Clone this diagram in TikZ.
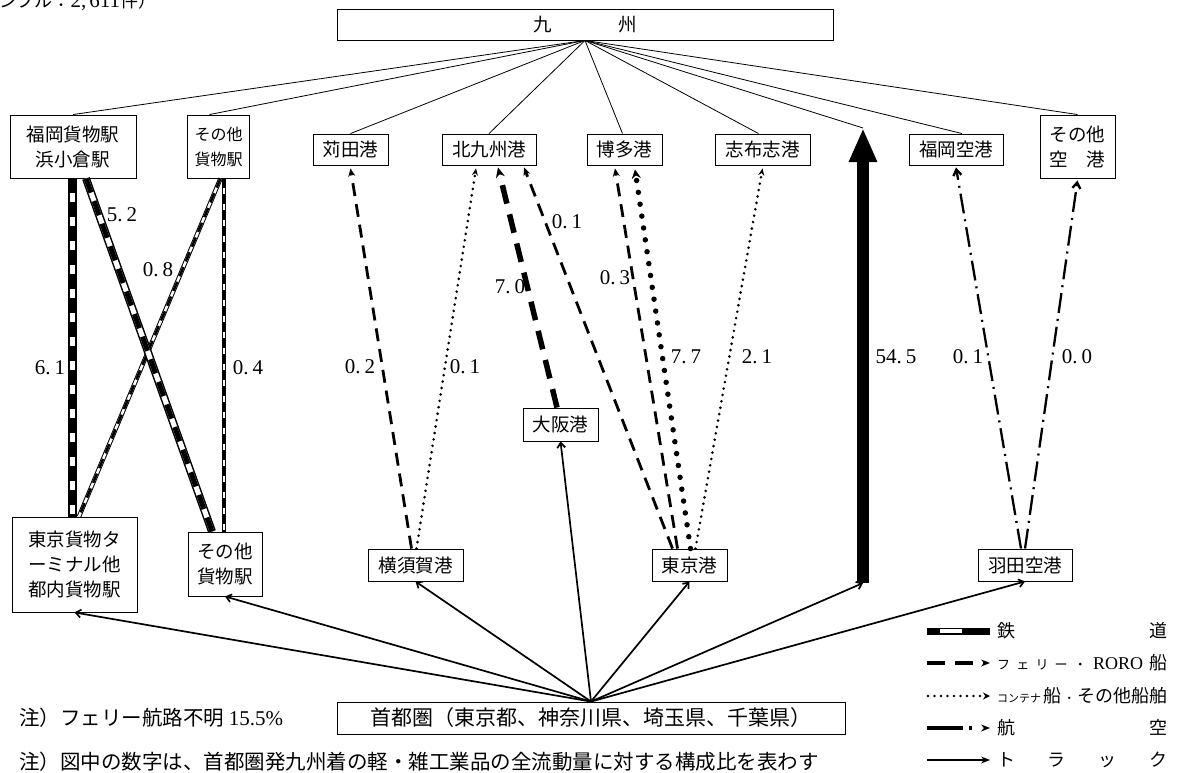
\documentclass[tikz,border=0pt]{standalone}
\usepackage{fontspec}
\newfontfamily\cjk{Noto Sans CJK JP}
\newfontfamily\numf{Liberation Serif}
\usetikzlibrary{arrows.meta}
\newcommand\myrail[5]{%
  \draw[line width=#1] #4 -- #5;
  \draw[white,line width=#2] #4 -- #5;
  \draw[line width=#2,dash pattern=#3] #4 -- #5;}
\newcommand\smk[1]{{\fontsize{13}{15}\selectfont #1}}
\newcommand\nm[2]{#1.\hspace{4pt}#2}
\begin{document}
\begin{tikzpicture}[x=1pt,y=-1pt,
  box/.style={draw,line width=0.9pt,inner sep=0pt,align=center,font=\cjk\fontsize{18.5}{25}\selectfont},
  fan/.style={line width=0.8pt},
  truck/.style={line width=1.7pt,-{Straight Barb[length=5pt,width=8pt]}},
  ferry/.style={line width=2.8pt,dash pattern=on 13pt off 8pt,-{Stealth[length=8pt,width=7pt]}},
  bigferry/.style={line width=5.5pt,dash pattern=on 19pt off 11pt,-{Stealth[length=10pt,width=9pt]}},
  cont/.style={line width=2.9pt,line cap=round,dash pattern=on 0pt off 6.5pt,-{Stealth[length=7pt,width=6pt]}},
  bigcont/.style={line width=5.5pt,line cap=round,dash pattern=on 0pt off 12pt,-{Stealth[length=9pt,width=9pt]}},
  air/.style={line width=2.3pt,dash pattern=on 20pt off 6pt on 2pt off 6pt,-{Straight Barb[length=6pt,width=8pt]}},
  lbl/.style={inner sep=0pt,font=\numf\fontsize{21}{23}\selectfont},
  leg/.style={inner sep=0pt,anchor=west,font=\cjk\fontsize{18}{20}\selectfont},
  note/.style={inner sep=0pt,anchor=west,font=\cjk\fontsize{20.5}{24}\selectfont}]
\useasboundingbox (0,0) rectangle (1177,773);

% top partial caption
\node[anchor=base west,inner sep=0pt,font=\cjk\fontsize{18}{18}\selectfont] (sample) at (-37,8) {（サンプル：{\numf\fontsize{21}{21}\selectfont 2,\hspace{3pt}611}件）};

% boxes
\node[box,minimum width=496,minimum height=31] (kyushu) at (585,24.5) {九\hspace{67pt}州};
\node[box,minimum width=126,minimum height=63] (fukuoka) at (73,146.5) {福岡貨物駅\\浜小倉駅};
\node[box,minimum width=62,minimum height=63,font=\cjk\fontsize{16}{25}\selectfont] (sonotaA) at (218.5,146.5) {その他\\貨物駅};
\node[box,minimum width=75,minimum height=31] (kanda) at (350.5,149.5) {苅田港};
\node[box,minimum width=94,minimum height=31] (kita) at (489,149.5) {北九州港};
\node[box,minimum width=75,minimum height=31] (hakata) at (624.5,149.5) {博多港};
\node[box,minimum width=95,minimum height=31] (shibushi) at (762.5,149.5) {志布志港};
\node[box,minimum width=94,minimum height=31] (fair) at (956,149.5) {福岡空港};
\node[box,minimum width=75,minimum height=63] (oair) at (1077.5,146.5) {その他\\空\hspace{1em}港};
\node[box,minimum width=125,minimum height=95] (tkf) at (74.5,564.5) {東京貨物タ\\ーミナル他\\都内貨物駅};
\node[box,minimum width=74,minimum height=64] (sonotaB) at (225,564) {その他\\貨物駅};
\node[box,minimum width=95,minimum height=32] (yoko) at (415.5,565) {横須賀港};
\node[box,minimum width=75,minimum height=33] (osaka) at (560.5,424.5) {大阪港};
\node[box,minimum width=75,minimum height=32] (tport) at (689.5,565) {東京港};
\node[box,minimum width=94,minimum height=32] (haneda) at (1025,565) {羽田空港};
\node[box,minimum width=508,minimum height=32,font=\cjk\fontsize{21}{25}\selectfont] (shuto) at (591,718) {首都圏（東京都、神奈川県、埼玉県、千葉県）};

\coordinate (barTop) at (863,128);
\coordinate (barBot) at (863,583);

% fan from Kyushu
\draw[fan] (kyushu.south) -- (fukuoka.north);
\draw[fan] (kyushu.south) -- ([xshift=-9pt]sonotaA.north);
\draw[fan] (kyushu.south) -- (kanda.north);
\draw[fan] (kyushu.south) -- (kita.north);
\draw[fan] (kyushu.south) -- ([xshift=-2pt]hakata.north);
\draw[fan] (kyushu.south) -- ([xshift=-4pt]shibushi.north);
\draw[fan] (kyushu.south) -- (barTop);
\draw[fan] (kyushu.south) -- ([xshift=6pt]fair.north);
\draw[fan] (kyushu.south) -- (oair.north);

% rail
\myrail{9pt}{5.5pt}{on 15pt off 9pt}{([xshift=-0.5pt]fukuoka.south)}{([xshift=-0.5pt]fukuoka.south |- tkf.north)}
\myrail{4.5pt}{2.5pt}{on 10pt off 6pt}{([xshift=5.5pt]sonotaA.south)}{([xshift=5.5pt]sonotaA.south |- sonotaB.north)}
\myrail{4.5pt}{2.5pt}{on 10pt off 6pt}{([xshift=2pt]sonotaA.south)}{([xshift=4.5pt]tkf.north)}
\myrail{8pt}{5pt}{on 15pt off 9pt}{([xshift=13pt]fukuoka.south)}{([xshift=-13pt]sonotaB.north)}

% ships
\draw[ferry] ([xshift=-4pt]yoko.north) -- ([yshift=-3pt]kanda.south);
\draw[cont] ([xshift=1pt]yoko.north) -- ([xshift=-13pt,yshift=-3pt]kita.south);
\draw[bigferry] ([xshift=-3.5pt]osaka.north) -- ([xshift=9pt,yshift=-2pt]kita.south);
\draw[ferry] ([xshift=-17pt]tport.north) -- ([xshift=35pt,yshift=-2pt]kita.south);
\draw[ferry] ([xshift=-12pt]tport.north) -- ([xshift=-9.5pt,yshift=-3pt]hakata.south);
\draw[bigcont] ([xshift=1pt]tport.north) -- ([xshift=10.5pt,yshift=-4pt]hakata.south);
\draw[cont] ([xshift=6pt]tport.north) -- ([yshift=-3pt]shibushi.south);

% air
\draw[air] ([xshift=-4pt]haneda.north) -- ([yshift=-2pt]fair.south);
\draw[air] (haneda.north) -- ([yshift=-2pt]oair.south);

% big truck bar
\draw[line width=12pt,-{Triangle[length=34pt,width=26pt]}] (barBot) -- (barTop);

% trucks
\draw[truck] (shuto.north) -- (tkf.south);
\draw[truck] (shuto.north) -- (sonotaB.south);
\draw[truck] (shuto.north) -- (yoko.south);
\draw[truck] (shuto.north) -- (osaka.south);
\draw[truck] (shuto.north) -- (tport.south);
\draw[truck] (shuto.north) -- (barBot);
\draw[truck] (shuto.north) -- (haneda.south);

% labels
\node[lbl] (l61) at (50,368) {\nm{6}{1}};
\node[lbl] (l52) at (122,215) {\nm{5}{2}};
\node[lbl] (l08) at (158,270) {\nm{0}{8}};
\node[lbl] (l04) at (248,368) {\nm{0}{4}};
\node[lbl] (l02) at (360,367) {\nm{0}{2}};
\node[lbl] (l01a) at (465,367) {\nm{0}{1}};
\node[lbl] (l70) at (510,287) {\nm{7}{0}};
\node[lbl] (l01b) at (567,222) {\nm{0}{1}};
\node[lbl] (l03) at (615,278) {\nm{0}{3}};
\node[lbl] (l77) at (686,357) {\nm{7}{7}};
\node[lbl] (l21) at (757,357) {\nm{2}{1}};
\node[lbl] (l545) at (896,357) {54.\hspace{4pt}5};
\node[lbl] (l01c) at (968,357) {\nm{0}{1}};
\node[lbl] (l00) at (1077,357) {\nm{0}{0}};

% notes
\node[note] (note1) at (19,718) {注）フェリー航路不明 {\numf\fontsize{21}{24}\selectfont 15.5\%}};
\node[note] (note2) at (19,762) {注）図中の数字は、首都圏発九州着の軽・雑工業品の全流動量に対する構成比を表わす};

% legend
\draw[line width=7pt] (927,631) -- (990,631);
\draw[white,line width=4.5pt] (940,631) -- (962,631);
\draw[line width=3.5pt,dash pattern=on 18pt off 10pt,-{Stealth[length=9pt,width=7pt]}] (927,663) -- (990,663);
\draw[line width=2.6pt,line cap=round,dash pattern=on 0pt off 6.5pt,-{Stealth[length=7pt,width=7pt]}] (928,696) -- (990,696);
\draw[line width=3.5pt,dash pattern=on 36pt off 6pt on 3pt off 20pt,-{Stealth[length=9pt,width=7pt]}] (927,728) -- (990,728);
\draw[line width=1.8pt,-{Stealth[length=9pt,width=7pt]}] (927,760) -- (990,760);
\node[leg] (t1) at (997,631) {\makebox[170pt][s]{鉄\hfill 道}};
\node[leg] (t2) at (997,663) {\makebox[170pt][s]{\smk{フ}\hfill\smk{ェ}\hfill\smk{リ}\hfill\smk{ー}\hfill\smk{・}\hfill{\numf RORO}\hfill 船}};
\node[leg] (t3) at (997,696) {\makebox[170pt][s]{{\fontsize{11}{13}\selectfont コンテナ}\hfil 船\hfil{\fontsize{11}{13}\selectfont ・}\hfil その他船舶}};
\node[leg] (t4) at (997,728) {\makebox[170pt][s]{航\hfill 空}};
\node[leg] (t5) at (997,760) {\makebox[170pt][s]{ト\hfill ラ\hfill ッ\hfill ク}};
\end{tikzpicture}
\end{document}
